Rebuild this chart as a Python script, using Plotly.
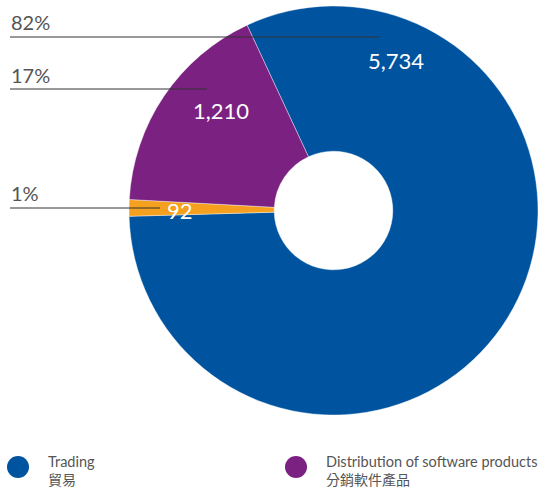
import plotly.graph_objects as go

labels = ["Trading", "Other", "Distribution of software products"]
labels_zh = ["貿易", "其他", "分銷軟件產品"]
values = [5734, 92, 1210]
colors = ["#00549F", "#F5A01E", "#7B2181"]
pct_labels = ["82%", "1%", "17%"]
value_text = ["5,734", "92", "1,210"]

# layout helpers (positions in paper coords)
W, H = 539, 490
def px(x): return x / W
def py(y): return 1 - y / H

fig = go.Figure()
fig.add_trace(go.Pie(
    labels=labels, values=values, sort=False, direction="clockwise",
    rotation=-25, hole=0.29,
    marker=dict(colors=colors, line=dict(color="white", width=0.4)),
    textinfo="none", hoverinfo="label+value", showlegend=False,
    domain=dict(x=[px(129), px(538)], y=[py(415), py(6)]),
))

# value labels inside slices
val_pos = [(396, 61), (180, 210), (221, 110)]
for t, (x, y) in zip(value_text, val_pos):
    fig.add_annotation(x=px(x), y=py(y), xref="paper", yref="paper", text=t,
                       showarrow=False, xanchor="center", yanchor="middle",
                       font=dict(family="Lato, Open Sans", size=22, color="white"))

# percent labels with leader lines
pct_pos = [(22, 37, 380), (193, 208, 160), (75, 89, 207)]
for t, (ty, ly, lx) in zip(pct_labels, pct_pos):
    fig.add_annotation(x=px(9), y=py(ty), xref="paper", yref="paper", text=t,
                       showarrow=False, xanchor="left", yanchor="middle",
                       font=dict(family="Lato, Open Sans", size=20, color="#555555"))
    fig.add_shape(type="line", xref="paper", yref="paper", x0=px(10), x1=px(lx),
                  y0=py(ly), y1=py(ly), line=dict(color="#333333", width=1))

# legend (first and third series)
leg_items = [(0, 18), (2, 296)]
for i, x in leg_items:
    r = 11
    fig.add_shape(type="circle", xref="paper", yref="paper",
                  x0=px(x - r), x1=px(x + r), y0=py(467 + r), y1=py(467 - r),
                  fillcolor=colors[i], line=dict(width=0))
    fig.add_annotation(x=px(x + 28), y=py(461), xref="paper", yref="paper", text=labels[i],
                       showarrow=False, xanchor="left", yanchor="middle",
                       font=dict(family="Lato, Open Sans", size=14.5, color="#555555"))
    fig.add_annotation(x=px(x + 28), y=py(479), xref="paper", yref="paper", text=labels_zh[i],
                       showarrow=False, xanchor="left", yanchor="middle",
                       font=dict(family="Noto Sans CJK TC", size=14, color="#555555"))

fig.update_layout(width=W, height=H, margin=dict(l=0, r=0, t=0, b=0),
                  paper_bgcolor="white", plot_bgcolor="white")
fig.write_html("out.html")
